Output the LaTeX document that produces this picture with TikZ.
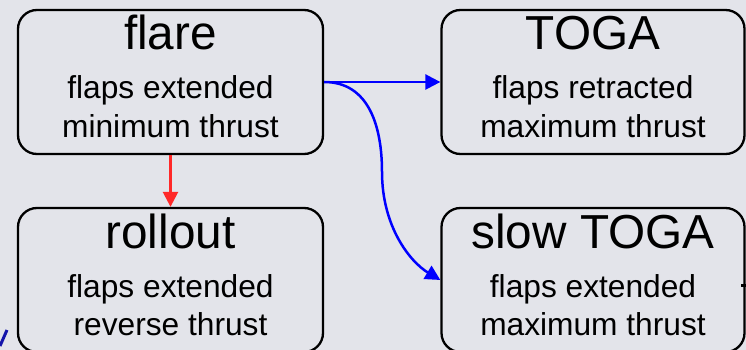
\documentclass[tikz,border=0pt]{standalone}
\usepackage{fontspec}
\setmainfont{Liberation Sans}
\usetikzlibrary{arrows.meta}
\definecolor{bg}{RGB}{227,228,234}
\definecolor{flowblue}{RGB}{0,0,255}
\definecolor{flowred}{RGB}{255,40,40}
\definecolor{inkblue}{RGB}{20,20,170}
\begin{document}
\begin{tikzpicture}[x=1pt,y=-1pt,
  statebox/.style={draw=black, line width=2.3pt, rounded corners=19pt,
    minimum width=305pt, minimum height=144pt, inner sep=0pt, fill=bg},
  statename/.style={anchor=base, inner sep=0pt, font=\fontsize{47.7}{52}\selectfont},
  stateline/.style={anchor=base, inner sep=0pt, font=\fontsize{31.7}{38}\selectfont},
  tip/.style={-{Triangle[length=15pt,width=15pt]}},
  bluelink/.style={tip, draw=flowblue, line width=2.5pt},
  redlink/.style={tip, draw=flowred, line width=2.5pt}]
  \fill[bg] (0,0) rectangle (746,350);
  \useasboundingbox (0,0) rectangle (746,350);
  \clip (0,0) rectangle (746,350);

  % state boxes
  \node[statebox] (flare) at (170.5,82) {};
  \node[statebox, minimum width=303pt] (toga) at (593,82) {};
  \node[statebox] (rollout) at (170.5,280) {};
  \node[statebox, minimum width=303pt] (slowtoga) at (593,280) {};

  % labels
  \node[statename] (flareT) at (170.5,50) {flare};
  \node[stateline] (flareA) at (170.5,99) {flaps extended};
  \node[stateline] (flareB) at (170.5,137) {minimum thrust};

  \node[statename] (togaT) at (593,50) {TOGA};
  \node[stateline] (togaA) at (593,99) {flaps retracted};
  \node[stateline] (togaB) at (593,137) {maximum thrust};

  \node[statename] (rolloutT) at (170.5,248) {rollout};
  \node[stateline] (rolloutA) at (170.5,297) {flaps extended};
  \node[stateline] (rolloutB) at (170.5,335) {reverse thrust};

  \node[statename] (slowtogaT) at (593,248) {slow TOGA};
  \node[stateline] (slowtogaA) at (593,297) {flaps extended};
  \node[stateline] (slowtogaB) at (593,335) {maximum thrust};

  % transitions
  \draw[redlink] (flare.south) -- (rollout.north);
  \draw[bluelink] (flare.east) -- (toga.west);
  \coordinate (bend) at (382,172);
  \draw[bluelink] (flare.east) .. controls +(45,0) and +(0,-45) .. (bend)
    .. controls +(0,55) and +(-30,-18) .. (slowtoga.west);

  % strokes running in from outside the frame
  \draw[inkblue, line width=3pt] (0,346) -- (7,330);
  \draw[black, line width=3pt] (741,285.5) -- (746,285.5);
\end{tikzpicture}
\end{document}
